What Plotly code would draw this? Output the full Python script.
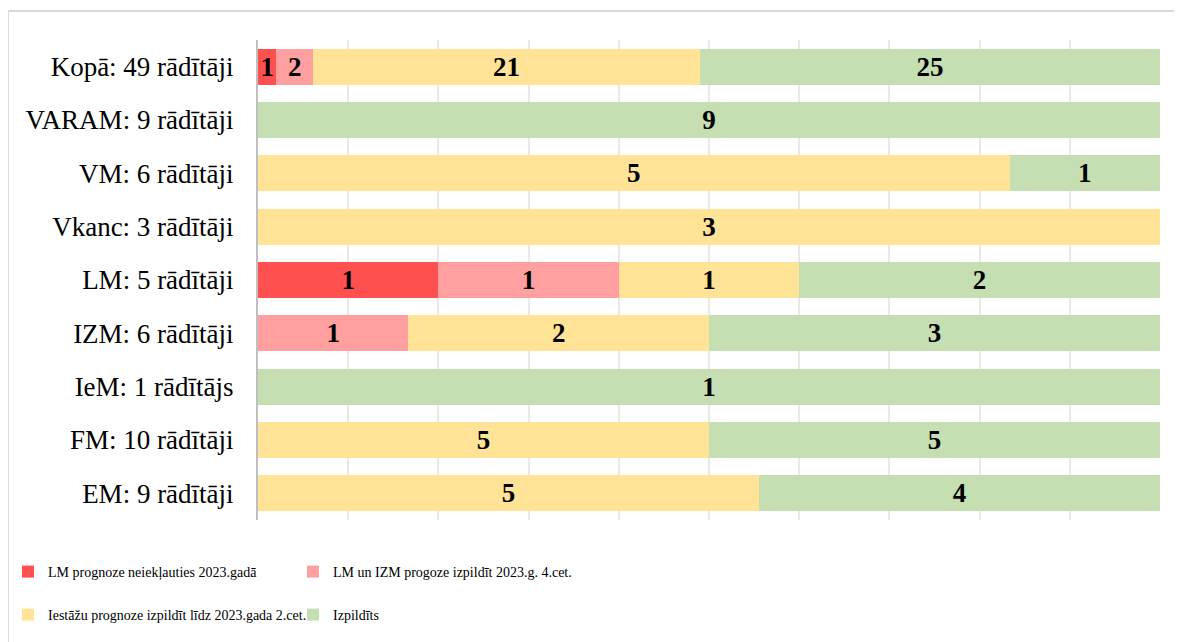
import plotly.graph_objects as go

categories = ["Kopā: 49 rādītāji", "VARAM: 9 rādītāji", "VM: 6 rādītāji", "Vkanc: 3 rādītāji",
              "LM: 5 rādītāji", "IZM: 6 rādītāji", "IeM: 1 rādītājs", "FM: 10 rādītāji", "EM: 9 rādītāji"]
not_included = [1, 0, 0, 0, 1, 0, 0, 0, 0]
q4_forecast = [2, 0, 0, 0, 1, 1, 0, 0, 0]
q2_forecast = [21, 0, 5, 3, 1, 2, 0, 5, 5]
done = [25, 9, 1, 0, 2, 3, 1, 5, 4]

series = [
    ("LM prognoze neiekļauties 2023.gadā", not_included, "#FF5050", "legend"),
    ("LM un IZM progoze izpildīt 2023.g. 4.cet.", q4_forecast, "#FF9F9F", "legend"),
    ("Iestāžu prognoze izpildīt līdz 2023.gada 2.cet.", q2_forecast, "#FFE396", "legend2"),
    ("Izpildīts", done, "#C5DFB3", "legend2"),
]

fig = go.Figure()
for name, vals, color, lg in series:
    fig.add_trace(go.Bar(
        y=categories, x=vals, name=name, orientation="h", legend=lg,
        marker=dict(color=color, line=dict(width=0)),
        text=[str(v) if v else "" for v in vals],
        textposition="inside", insidetextanchor="middle", textangle=0,
        textfont=dict(family="Liberation Serif", size=27, color="black", weight="bold"),
        hoverinfo="skip",
    ))

legend_common = dict(orientation="h", xanchor="left", yanchor="middle",
                     xref="container", yref="container",
                     font=dict(family="Liberation Serif", size=14), entrywidth=240,
                     entrywidthmode="pixels", traceorder="normal", itemwidth=30,
                     bgcolor="rgba(0,0,0,0)")
fig.update_layout(
    barmode="stack", barnorm="percent", bargap=0.325,
    width=1182, height=642,
    margin=dict(l=250, r=30, t=32, b=130, autoexpand=False),
    paper_bgcolor="white", plot_bgcolor="white",
    font=dict(family="Liberation Serif", size=27, color="black"),
    uniformtext=dict(minsize=27, mode="show"),
    legend=dict(x=0.0, y=0.1215, **legend_common),
    legend2=dict(x=0.0, y=0.0545, **legend_common),
    showlegend=True,
)
fig.update_xaxes(range=[0, 100], dtick=10, showgrid=True, gridcolor="rgba(200,200,200,0.4)",
                 gridwidth=1.5, showticklabels=False, zeroline=False, layer="above traces",
                 fixedrange=True)
fig.update_yaxes(categoryorder="array", categoryarray=categories, autorange="reversed",
                 showline=True, linecolor="#BFBFBF", linewidth=2, ticks="",
                 ticklabelstandoff=17, tickfont=dict(family="Liberation Serif", size=27))
fig.add_shape(type="rect", xref="paper", yref="paper", x0=-0.2772, x1=1.2, y0=-0.4, y1=1.0604,
              line=dict(color="#D9D9D9", width=2), fillcolor="rgba(0,0,0,0)", layer="below")

fig.write_html("out.html")
